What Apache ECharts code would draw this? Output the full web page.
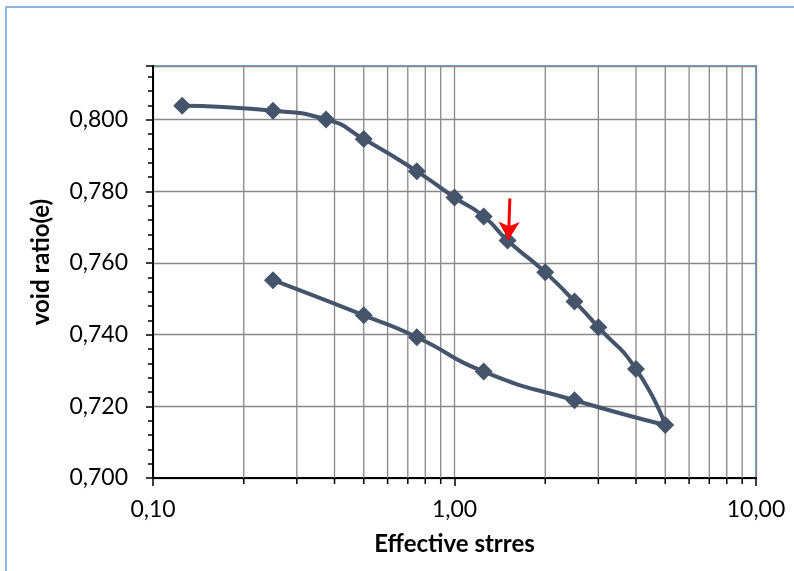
<!DOCTYPE html>
<html>
<head>
<meta charset="utf-8">
<script src="https://cdn.jsdelivr.net/npm/echarts@6/dist/echarts.min.js"></script>
<style>
  html, body { margin: 0; padding: 0; background: #fff; }
  #chart { width: 794px; height: 571px; }
</style>
</head>
<body>
<div id="chart"></div>
<script>
// effective stress (loading then unloading) and void ratio
var stress = [0.125, 0.25, 0.375, 0.5, 0.75, 1.0, 1.25, 1.5, 2.0, 2.5, 3.0, 4.0, 5.0,
              2.5, 1.25, 0.75, 0.5, 0.25];
var voidRatio = [0.8039, 0.8025, 0.8001, 0.7946, 0.7856, 0.7783, 0.7730, 0.7663, 0.7574,
                 0.7493, 0.7421, 0.7304, 0.7148,
                 0.7217, 0.7297, 0.7393, 0.7454, 0.7552];
// minor log gridlines (2..9 in each decade)
var minorStress = [0.2, 0.3, 0.4, 0.5, 0.6, 0.7, 0.8, 0.9, 2, 3, 4, 5, 6, 7, 8, 9];
// red arrow pointing at the 1.5 point
var arrowFrom = [1.526, 0.7780];
var arrowTo = [1.51, 0.7665];

var yMin = 0.700, yMax = 0.815;
var points = stress.map(function(s, i) { return [s, voidRatio[i]]; });
var minorData = minorStress.map(function(s) { return [s, yMin]; });

var myChart = echarts.init(document.getElementById('chart'));
var option = {
    animation: false,
    backgroundColor: '#fff',
    textStyle: { fontFamily: 'Lato' },
    graphic: [{
        type: 'rect',
        shape: { x: 6, y: 7, width: 820, height: 600 },
        style: { fill: null, stroke: '#8fb4e3', lineWidth: 2 },
        silent: true
    }],
    grid: {
        left: 153, right: 38, top: 66, bottom: 93,
        show: true,
        borderColor: '#6a9fe0',
        borderWidth: 2
    },
    xAxis: {
        type: 'log',
        logBase: 10,
        min: 0.1,
        max: 10,
        name: 'Effective strres',
        nameLocation: 'middle',
        nameGap: 54,
        nameTextStyle: { fontFamily: 'Lato', fontWeight: 'bold', fontSize: 24, color: '#000' },
        axisLine: { show: true, lineStyle: { color: '#000', width: 2 } },
        axisTick: { show: true, length: 8, lineStyle: { color: '#000', width: 1.5 } },
        axisLabel: {
            margin: 20,
            fontSize: 23,
            color: '#000',
            formatter: function(v) { return v.toFixed(2).replace('.', ','); }
        },
        splitLine: { show: true, lineStyle: { color: '#888', width: 1.3 } }
    },
    yAxis: {
        type: 'value',
        min: yMin,
        max: yMax,
        interval: 0.02,
        name: 'void ratio(e)',
        nameLocation: 'middle',
        nameGap: 100,
        nameTextStyle: { fontFamily: 'Lato', fontWeight: 'bold', fontSize: 24, color: '#000', padding: [0, 0, 0, 20] },
        axisLine: { show: true, lineStyle: { color: '#000', width: 2 } },
        axisTick: { show: true, length: 7, lineStyle: { color: '#000', width: 1.5 } },
        minorTick: { show: true, splitNumber: 5, length: 5, lineStyle: { color: '#000', width: 1.5 } },
        axisLabel: {
            margin: 25,
            fontSize: 23,
            color: '#000',
            showMaxLabel: false,
            formatter: function(v) { return v.toFixed(3).replace('.', ','); }
        },
        splitLine: { show: true, lineStyle: { color: '#888', width: 1.3 } }
    },
    series: [{
        type: 'custom',
        silent: true,
        z: 1,
        encode: { x: 0, y: 1 },
        data: minorData,
        renderItem: function(params, api) {
            var x = api.value(0);
            var top = api.coord([x, yMax]);
            var bot = api.coord([x, yMin]);
            return {
                type: 'group',
                children: [{
                    type: 'line',
                    shape: { x1: top[0], y1: top[1], x2: bot[0], y2: bot[1] },
                    style: { stroke: '#888', lineWidth: 1.3 }
                }, {
                    type: 'line',
                    shape: { x1: bot[0], y1: bot[1], x2: bot[0], y2: bot[1] + 6 },
                    style: { stroke: '#000', lineWidth: 1.5 }
                }]
            };
        }
    }, {
        type: 'line',
        z: 3,
        data: points,
        smooth: 0.6,
        symbol: 'diamond',
        symbolSize: 18,
        lineStyle: { color: '#44546a', width: 4 },
        itemStyle: { color: '#44546a' },
        emphasis: { disabled: true },
        markLine: {
            silent: true,
            symbol: ['none', 'arrow'],
            symbolSize: [16, 18],
            label: { show: false },
            lineStyle: { color: '#ff0000', width: 3, type: 'solid' },
            emphasis: { disabled: true },
            data: [[{ coord: arrowFrom }, { coord: arrowTo }]]
        }
    }]
};
myChart.setOption(option);
</script>
</body>
</html>
